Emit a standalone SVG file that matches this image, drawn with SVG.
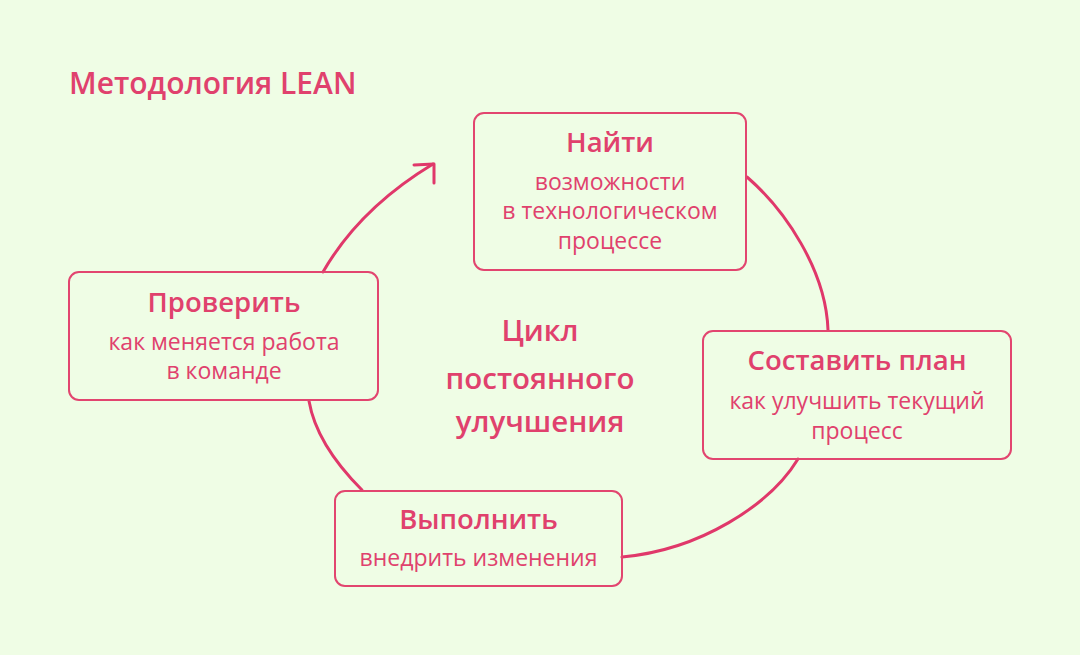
<svg xmlns="http://www.w3.org/2000/svg" width="1080" height="655" viewBox="0 0 1080 655">
  <defs>
    <style>
      .bg { fill: #effde5; }
      .box { fill: none; stroke: #e2456f; stroke-width: 2; }
      .conn { fill: none; stroke: #e0386a; stroke-width: 3; stroke-linecap: round; stroke-linejoin: round; }
      .title { font-family: "Open Sans", "Noto Sans", sans-serif; font-weight: 600; font-size: 27.5px; fill: #e0416d; text-anchor: middle; }
      .center { font-family: "Open Sans", "Noto Sans", sans-serif; font-weight: 600; font-size: 29.5px; fill: #e0416d; text-anchor: middle; }
      .body { font-family: "Open Sans", "Noto Sans", sans-serif; font-weight: 400; font-size: 23px; fill: #e0416d; text-anchor: middle; }
      .head { font-family: "Open Sans", "Noto Sans", sans-serif; font-weight: 600; font-size: 30px; fill: #e0416d; }
    </style>
  </defs>
  <rect class="bg" x="0" y="0" width="1080" height="655"/>
  <text class="head" x="69" y="94">Методология LEAN</text>

  <g id="connectors">
    <path class="conn" d="M323,272 C350,225 390,190 433,164"/>
    <path class="conn" d="M414,165 L434,164 L434,183"/>
    <path class="conn" d="M747,177 C785,210 826,270 828,330"/>
    <path class="conn" d="M798,459 C770,505 700,550 622,557"/>
    <path class="conn" d="M309,401 C314,430 332,460 362,490"/>
  </g>

  <g id="node-find">
    <rect class="box" x="474" y="113" width="272" height="157" rx="10"/>
    <text class="title" x="610" y="152">Найти</text>
    <text class="body" x="610" y="189.5">возможности</text>
    <text class="body" x="610" y="219">в технологическом</text>
    <text class="body" x="610" y="248.5">процессе</text>
  </g>

  <g id="node-plan">
    <rect class="box" x="703" y="331" width="308" height="128" rx="10"/>
    <text class="title" x="857" y="370">Составить план</text>
    <text class="body" x="857" y="409">как улучшить текущий</text>
    <text class="body" x="857" y="438.5">процесс</text>
  </g>

  <g id="node-check">
    <rect class="box" x="69" y="272" width="309" height="128" rx="10"/>
    <text class="title" x="224" y="311.5">Проверить</text>
    <text class="body" x="224" y="349.5">как меняется работа</text>
    <text class="body" x="224" y="379">в команде</text>
  </g>

  <g id="node-do">
    <rect class="box" x="335" y="491" width="287" height="95" rx="10"/>
    <text class="title" x="478.5" y="529">Выполнить</text>
    <text class="body" x="478.5" y="566">внедрить изменения</text>
  </g>

  <g id="center">
    <text class="center" x="540" y="341">Цикл</text>
    <text class="center" x="540" y="389">постоянного</text>
    <text class="center" x="540" y="432">улучшения</text>
  </g>
</svg>
